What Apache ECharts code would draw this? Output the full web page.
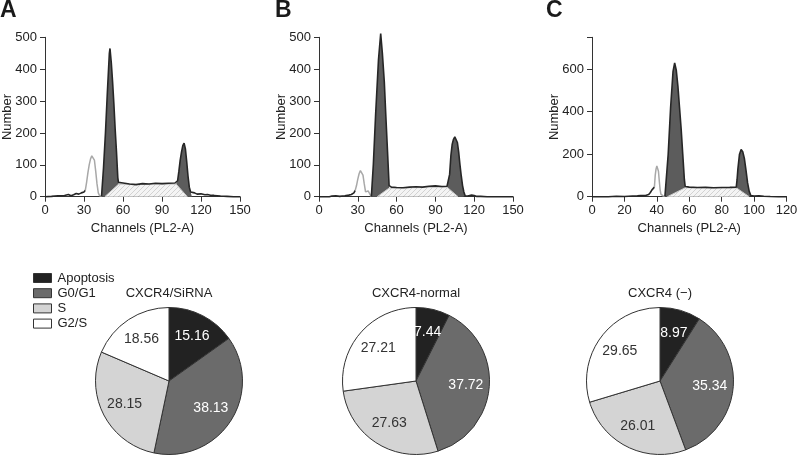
<!DOCTYPE html>
<html><head><meta charset="utf-8">
<script src="https://cdn.jsdelivr.net/npm/echarts@6/dist/echarts.min.js"></script>
<style>html,body{margin:0;padding:0;background:#fff}#c{width:798px;height:455px}</style>
</head><body><div id="c"></div>
<script>
// ---------------- DATA ----------------
const phases = ['Apoptosis', 'G0/G1', 'S', 'G2/S'];
const pieTitles = ['CXCR4/SiRNA', 'CXCR4-normal', 'CXCR4 (\u2212)'];
const pieA = [15.16, 38.13, 28.15, 18.56];
const pieB = [7.44, 37.72, 27.63, 27.21];
const pieC = [8.97, 35.34, 26.01, 29.65];

const panelLetters = ['A', 'B', 'C'];
const xName = 'Channels (PL2-A)';
const yName = 'Number';
const xTicksAB = [0, 30, 60, 90, 120, 150];
const xTicksC = [0, 20, 40, 60, 80, 100, 120];
const yTicksAB = [0, 100, 200, 300, 400, 500];
const yTicksC = [0, 200, 400, 600];
const yMaxC = 750;

// Panel A histogram
const chA = [0,5,10,15,18,20,22,24,26,28,30,31,32,33,34,35,36,37,38,39,40,41,42,43,43.5,45,46.5,48,49.5,50,51,52,53,54,55,56,56.5,60,65,70,75,80,85,90,95,100,101,102,103,104,105,106,107,108,109,110,111,112,113,115,117,120,123,125,128,130,135,140,145,150];
const nA  = [0,1,3,4,7,3,6,10,8,12,15,20,45,75,100,118,128,131,115,80,40,12,3,1,2,90,200,330,450,465,420,360,290,210,140,60,45,43,40,38,41,40,42,41,42,43,43,50,80,115,140,160,168,150,110,65,30,15,10,12,8,9,6,7,4,4,2,1,0,0];
const apoA = [31, 43.5];
const g1A = [43.5, 56.5];
const g2A = [101, 113];
const sChA = [46, 56.5, 101, 109.5];
const sNA = [0, 39, 39, 0];

// Panel B histogram
const chB = [0,8,10,13,16,20,23,25,27,28,29,30,31,32,33,34,35,36,37,38,39,40,40.5,42,43.8,46,47.7,49,50.5,51.6,53,54.2,56,60,65,70,75,80,85,90,95,99,100,101,102,103,104,105,106,107,108,109,110,111,112,113,115,118,119,120,122,125,130,150];
const nB  = [0,0,2,3,1,3,5,7,12,20,35,55,72,82,84,68,40,15,10,18,14,3,1,100,260,430,512,450,360,260,140,35,30,29,28,30,31,30,33,34,32,33,35,70,130,165,180,188,186,170,140,100,65,35,15,3,2,5,9,4,1,1,0,0];
const apoB = [28, 40.5];
const g1B = [40.5, 54.2];
const g2B = [99, 113];
const sChB = [45, 54.2, 99, 107.5];
const sNB = [0, 27, 30, 0];

// Panel C histogram
const chC = [0,10,15,20,25,28,30,33,35,36,37,38,38.5,39,39.5,40,40.5,41,41.5,42,42.5,43,44,45,45.8,47,48.5,50,51,52,53,54,55,56,57,57.5,60,65,70,75,80,85,89,89.5,90,91,92,93,94,95,96,97,98,100,103,106,110,115,120];
const nC  = [0,0,2,1,3,4,5,6,10,20,32,40,45,100,130,145,150,120,75,35,12,5,3,2,5,200,420,590,629,595,520,420,320,200,80,48,45,43,44,42,43,44,45,80,130,200,222,212,180,125,65,25,6,3,4,2,1,0,0];
const apoC = [38.5, 45];
const g1C = [45, 57.5];
const g2C = [89, 98];
const sChC = [46.5, 57.5, 89, 97];
const sNC = [0, 42, 42, 0];

// ---------------- LAYOUT / STYLE ----------------
const FONT = 'Liberation Sans, Arial, Helvetica, sans-serif';
const grids = [
  {left: 45, top: 37.3, width: 195, height: 159.4},
  {left: 319, top: 37.3, width: 194, height: 159.4},
  {left: 592, top: 37.3, width: 194.5, height: 159.4}
];
const letterPos = [[0, 11], [275, 11], [546, 11]];
const pieCenters = [[169, 381], [416, 381], [660, 381]];
const pieR = 73.5;
const pieColors = ['#222222', '#6b6b6b', '#d4d4d4', '#ffffff'];
const pieLabelColors = ['#ffffff', '#ffffff', '#333333', '#333333'];

const pc = document.createElement('canvas');
pc.width = 5; pc.height = 5;
const g = pc.getContext('2d');
g.fillStyle = '#f4f4f4'; g.fillRect(0, 0, 5, 5);
g.strokeStyle = '#d2d2d2'; g.lineWidth = 1;
g.beginPath(); g.moveTo(0, 5); g.lineTo(5, 0); g.stroke();
const hatch = {image: pc, repeat: 'repeat'};

const panels = [
  {ch: chA, n: nA, apo: apoA, g1: g1A, g2: g2A, sCh: sChA, sN: sNA, xt: xTicksAB, yt: yTicksAB, ymax: 500},
  {ch: chB, n: nB, apo: apoB, g1: g1B, g2: g2B, sCh: sChB, sN: sNB, xt: xTicksAB, yt: yTicksAB, ymax: 500},
  {ch: chC, n: nC, apo: apoC, g1: g1C, g2: g2C, sCh: sChC, sN: sNC, xt: xTicksC, yt: yTicksC, ymax: yMaxC}
];

function pts(ch, n, lo, hi) {
  const out = [];
  for (let i = 0; i < ch.length; i++) if (ch[i] >= lo && ch[i] <= hi) out.push([ch[i], n[i]]);
  return out;
}

const axisColor = '#333';
const xAxes = [], yAxes = [], series = [];
panels.forEach((p, i) => {
  xAxes.push({
    type: 'value', gridIndex: i, min: p.xt[0], max: p.xt[p.xt.length - 1], interval: p.xt[1] - p.xt[0],
    name: xName, nameLocation: 'middle', nameGap: 25, nameMoveOverlap: false,
    nameTextStyle: {fontSize: 13, color: '#222', fontFamily: FONT},
    axisLine: {onZero: false, lineStyle: {color: axisColor, width: 1}},
    axisTick: {length: 5, lineStyle: {color: axisColor}},
    axisLabel: {fontSize: 13, color: '#222', margin: 7, fontFamily: FONT},
    splitLine: {show: false}
  });
  yAxes.push({
    type: 'value', gridIndex: i, min: p.yt[0], max: p.ymax, interval: p.yt[1] - p.yt[0],
    name: yName, nameLocation: 'middle', nameGap: 31, nameMoveOverlap: false,
    nameTextStyle: {fontSize: 13, color: '#222', fontFamily: FONT},
    axisLine: {show: true, onZero: false, lineStyle: {color: axisColor, width: 1}},
    axisTick: {show: true, length: 5, lineStyle: {color: axisColor}},
    axisLabel: {fontSize: 13, color: '#222', margin: 8, fontFamily: FONT,
      formatter: v => (p.yt.indexOf(v) >= 0 ? String(v) : '')},
    splitLine: {show: false}
  });
  const base = {type: 'line', xAxisIndex: i, yAxisIndex: i, symbol: 'none', smooth: false, clip: false, silent: true, animation: false};
  series.push(Object.assign({}, base, {data: pts(p.ch, p.n, p.g1[0], p.g1[1]), lineStyle: {width: 0}, areaStyle: {color: '#5c5c5c', opacity: 1}, z: 2}));
  series.push(Object.assign({}, base, {data: pts(p.ch, p.n, p.g2[0], p.g2[1]), lineStyle: {width: 0}, areaStyle: {color: '#5c5c5c', opacity: 1}, z: 2}));
  series.push(Object.assign({}, base, {data: p.sCh.map((c, j) => [c, p.sN[j]]), lineStyle: {color: '#c8c8c8', width: 1}, areaStyle: {color: hatch, opacity: 1}, z: 3}));
  series.push(Object.assign({}, base, {data: pts(p.ch, p.n, -1e9, p.apo[0]), lineStyle: {color: '#262626', width: 1.6}, z: 4}));
  series.push(Object.assign({}, base, {data: pts(p.ch, p.n, p.apo[0], p.apo[1]), lineStyle: {color: '#a8a8a8', width: 1.5}, z: 4}));
  series.push(Object.assign({}, base, {data: pts(p.ch, p.n, p.apo[1], 1e9), lineStyle: {color: '#262626', width: 1.6}, z: 4}));
});

const pieData = [pieA, pieB, pieC];
// visible pies first (legend takes styles from these)
pieData.forEach((vals, k) => {
  series.push({
    type: 'pie', center: pieCenters[k], radius: [0, pieR], startAngle: 90, clockwise: true,
    silent: true, animation: false, label: {show: false}, labelLine: {show: false},
    itemStyle: {borderColor: '#333', borderWidth: 1},
    data: phases.map((nm, j) => ({name: nm, value: vals[j], itemStyle: {color: pieColors[j]}}))
  });
});
// label-only rings (transparent) to place values nearer the rim
pieData.forEach((vals, k) => {
  series.push({
    type: 'pie', center: pieCenters[k], radius: [pieR * 0.28, pieR], startAngle: 90, clockwise: true,
    silent: true, animation: false, legendHoverLink: false, labelLine: {show: false},
    itemStyle: {color: 'rgba(0,0,0,0)', borderWidth: 0},
    label: {show: true, position: 'inside', fontSize: 14, fontFamily: FONT, formatter: q => q.value.toFixed(2)},
    data: phases.map((nm, j) => ({name: nm, value: vals[j], label: {color: pieLabelColors[j]}}))
  });
});

const graphics = [];
panelLetters.forEach((L, k) => {
  graphics.push({type: 'text', x: letterPos[k][0], y: letterPos[k][1], silent: true,
    style: {text: L, font: 'bold 23px ' + FONT, fill: '#1a1a1a', textAlign: 'left', textVerticalAlign: 'middle'}});
});
pieTitles.forEach((t, k) => {
  graphics.push({type: 'text', x: pieCenters[k][0], y: 293, silent: true,
    style: {text: t, font: '13px ' + FONT, fill: '#222', textAlign: 'center', textVerticalAlign: 'middle'}});
});

const chart = echarts.init(document.getElementById('c'), null, {renderer: 'canvas'});
chart.setOption({
  animation: false,
  backgroundColor: '#fff',
  textStyle: {fontFamily: FONT},
  grid: grids.map(gr => Object.assign({outerBoundsMode: 'none', containLabel: false}, gr)),
  xAxis: xAxes,
  yAxis: yAxes,
  legend: {
    orient: 'vertical', left: 28, top: 266, itemWidth: 18, itemHeight: 9, itemGap: 1.2,
    icon: 'rect', selectedMode: false, data: phases,
    textStyle: {fontSize: 13, color: '#222', lineHeight: 14, padding: [0, 0, 0, 1], fontFamily: FONT},
    itemStyle: {borderColor: '#333', borderWidth: 1}
  },
  series: series,
  graphic: graphics
});
</script>
</body></html>
